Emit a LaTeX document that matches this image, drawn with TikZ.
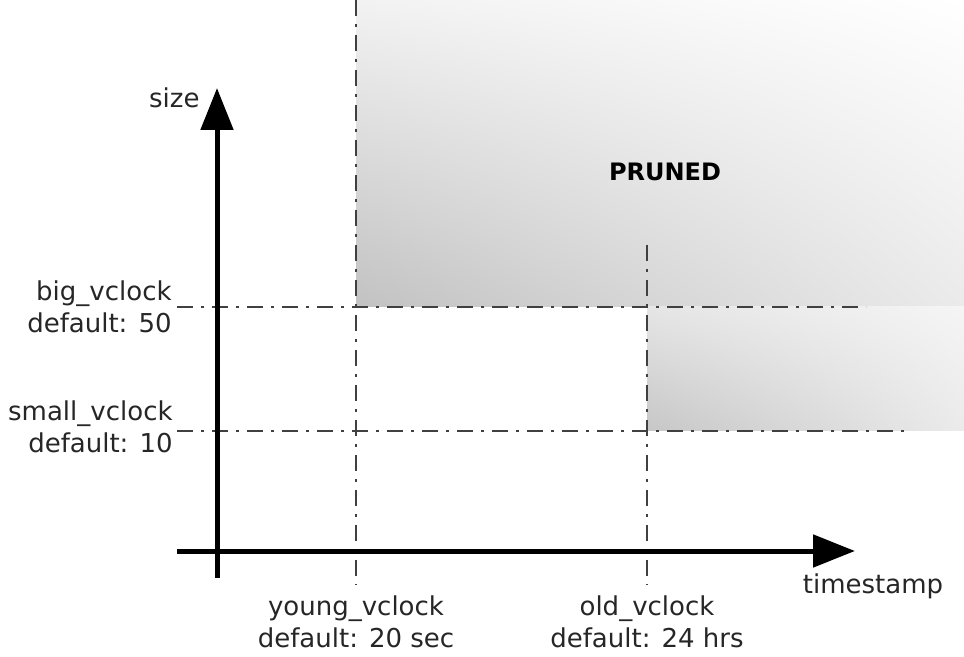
\documentclass[tikz,border=0pt]{standalone}
\usepackage{fontspec}
\setmainfont{DejaVu Sans}
\usetikzlibrary{arrows.meta,shadings}
\begin{document}
\begin{tikzpicture}[x=0.5pt,y=-0.5pt,
  axis/.style={line width=2.5pt,-{Triangle[length=21pt,width=16pt]}},
  guide/.style={line width=1.3pt,draw=black!75,dash pattern=on 8pt off 4pt on 1.5pt off 4pt},
  lab/.style={font=\fontsize{13}{16}\selectfont,inner sep=0pt,text=black!85}]
\useasboundingbox (0,0) rectangle (964,657);
% shaded pruned regions
\shade[upper left=black!5,upper right=white,lower left=black!24,lower right=black!8]
  (356,0) rectangle (964,307);
\shade[upper left=black!10,upper right=black!4,lower left=black!22,lower right=black!8]
  (647,307) rectangle (964,431);
% guide coordinates
\coordinate (yv1) at (356,0);   \coordinate (yv2) at (356,585);
\coordinate (ov1) at (647,245); \coordinate (ov2) at (647,585);
\coordinate (bh1) at (177,307); \coordinate (bh2) at (866,307);
\coordinate (sh1) at (177,431); \coordinate (sh2) at (908,431);
\draw[guide] (yv1) -- (yv2);
\draw[guide] (ov1) -- (ov2);
\draw[guide] (bh1) -- (bh2);
\draw[guide] (sh1) -- (sh2);
% axes
\coordinate (y0) at (217,578); \coordinate (y1) at (217,88);
\coordinate (x0) at (177,551); \coordinate (x1) at (855,551);
\draw[axis] (y0) -- (y1);
\draw[axis] (x0) -- (x1);
% labels
\node[lab,anchor=east] (size) at (200,98) {size};
\node[lab,anchor=east,align=right] (big) at (172,307) {big\_vclock\\default: 50};
\node[lab,anchor=east,align=right] (small) at (173,427) {small\_vclock\\default: 10};
\node[lab,align=center] (young) at (356,622) {young\_vclock\\default: 20 sec};
\node[lab,align=center] (old) at (647,622) {old\_vclock\\default: 24 hrs};
\node[lab] (ts) at (873,586) {timestamp};
\node[lab,font=\fontsize{12}{14}\selectfont\bfseries,text=black] (pruned) at (665,172) {PRUNED};
\end{tikzpicture}
\end{document}
